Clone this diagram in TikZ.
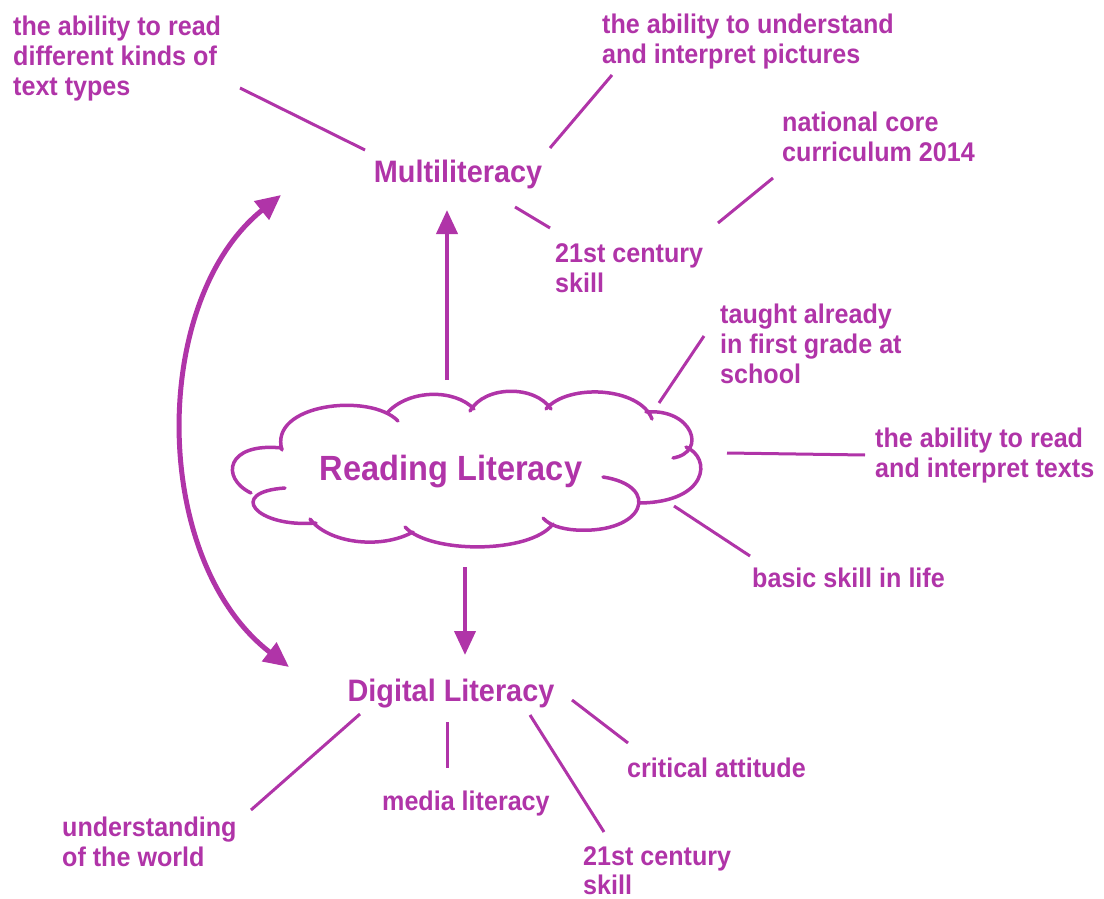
\documentclass[tikz,border=0pt]{standalone}
\usepackage{fontspec}
\setmainfont{Liberation Sans}[FakeStretch=0.93]
\usetikzlibrary{arrows.meta}
\definecolor{mag}{RGB}{176,52,168}
\begin{document}
\begin{tikzpicture}[x=1pt,y=-1pt,
  lbl/.style={anchor=north west,inner sep=0pt,align=left,text=mag,font=\fontsize{27}{30}\selectfont\bfseries},
  title/.style={anchor=base,inner sep=0pt,text=mag,font=\fontsize{31}{36}\selectfont\bfseries},
  conn/.style={draw=mag,line width=3pt},
  arr/.style={draw=mag,line width=4pt,-{Triangle[length=24pt,width=21pt]}},
  dblarr/.style={draw=mag,line width=5pt,{Triangle[length=25pt,width=23pt]}-{Triangle[length=25pt,width=23pt]}},
  cloudline/.style={draw=mag,line width=3.5pt,line cap=round}]
\useasboundingbox (0,0) rectangle (1104,899);
% titles
\node[title] (multi) at (458,182) {Multiliteracy};
\node[title,font=\fontsize{35}{40}\selectfont\bfseries] (read) at (451,480) {Reading Literacy};
\node[title] (digi) at (451,701) {Digital Literacy};
% labels
\node[lbl] (t1) at (13,16) {the ability to read\\different kinds of\\text types};
\node[lbl] (t2) at (602,14) {the ability to understand\\and interpret pictures};
\node[lbl] (t3) at (782,112) {national core\\curriculum 2014};
\node[lbl] (t4) at (555,243) {21st century\\skill};
\node[lbl] (t5) at (720,304) {taught already\\in first grade at\\school};
\node[lbl] (t6) at (875,428) {the ability to read\\and interpret texts};
\node[lbl] (t7) at (752,568) {basic skill in life};
\node[lbl] (t8) at (627,758) {critical attitude};
\node[lbl] (t9) at (382,791) {media literacy};
\node[lbl] (t10) at (62,817) {understanding\\of the world};
\node[lbl,font=\fontsize{27}{29}\selectfont\bfseries] (t11) at (583,846) {21st century\\skill};
% cloud
\draw[cloudline]
  (282,450) .. controls (268,404) and (370,392) .. (398,421)
  (388,412) .. controls (410,389) and (455,389) .. (474,409)
  (470,411) .. controls (485,385) and (535,385) .. (551,409)
  (546,409) .. controls (568,383) and (640,387) .. (652,419)
  (646,412) .. controls (692,408) and (708,452) .. (673,458)
  (686,447) .. controls (712,458) and (708,502) .. (640,503)
  (603,477) .. controls (662,486) and (645,534) .. (576,530)
      .. controls (561,529) and (549,525) .. (543,518)
  (553,524) .. controls (530,554) and (430,554) .. (405,527)
  (413,532) .. controls (380,550) and (328,543) .. (310,519)
  (316,523) .. controls (256,528) and (226,492) .. (285,488)
  (251,493) .. controls (220,478) and (226,442) .. (282,448);
% connector end points
\coordinate (a1) at (240,88);   \coordinate (b1) at (365,150);
\coordinate (a2) at (612,75);   \coordinate (b2) at (550,148);
\coordinate (a3) at (515,207);  \coordinate (b3) at (550,228);
\coordinate (a4) at (773,178);  \coordinate (b4) at (718,223);
\coordinate (a5) at (704,336);  \coordinate (b5) at (659,403);
\coordinate (a6) at (727,453);  \coordinate (b6) at (865,455);
\coordinate (a7) at (674,506);  \coordinate (b7) at (750,556);
\coordinate (a8) at (360,714);  \coordinate (b8) at (251,810);
\coordinate (a9) at (447,722);  \coordinate (b9) at (447,768);
\coordinate (a10) at (530,715); \coordinate (b10) at (604,832);
\coordinate (a11) at (572,700); \coordinate (b11) at (628,743);
\foreach \i in {1,...,11} {\draw[conn] (a\i) -- (b\i);}
% arrows
\coordinate (up0) at (447,380); \coordinate (up1) at (447,210);
\coordinate (dn0) at (465,567); \coordinate (dn1) at (465,655);
\draw[arr] (up0) -- (up1);
\draw[arr] (dn0) -- (dn1);
\coordinate (c0) at (281,195); \coordinate (c1) at (289,667);
\draw[dblarr] (c0) .. controls (150,300) and (150,560) .. (c1);
\end{tikzpicture}
\end{document}
